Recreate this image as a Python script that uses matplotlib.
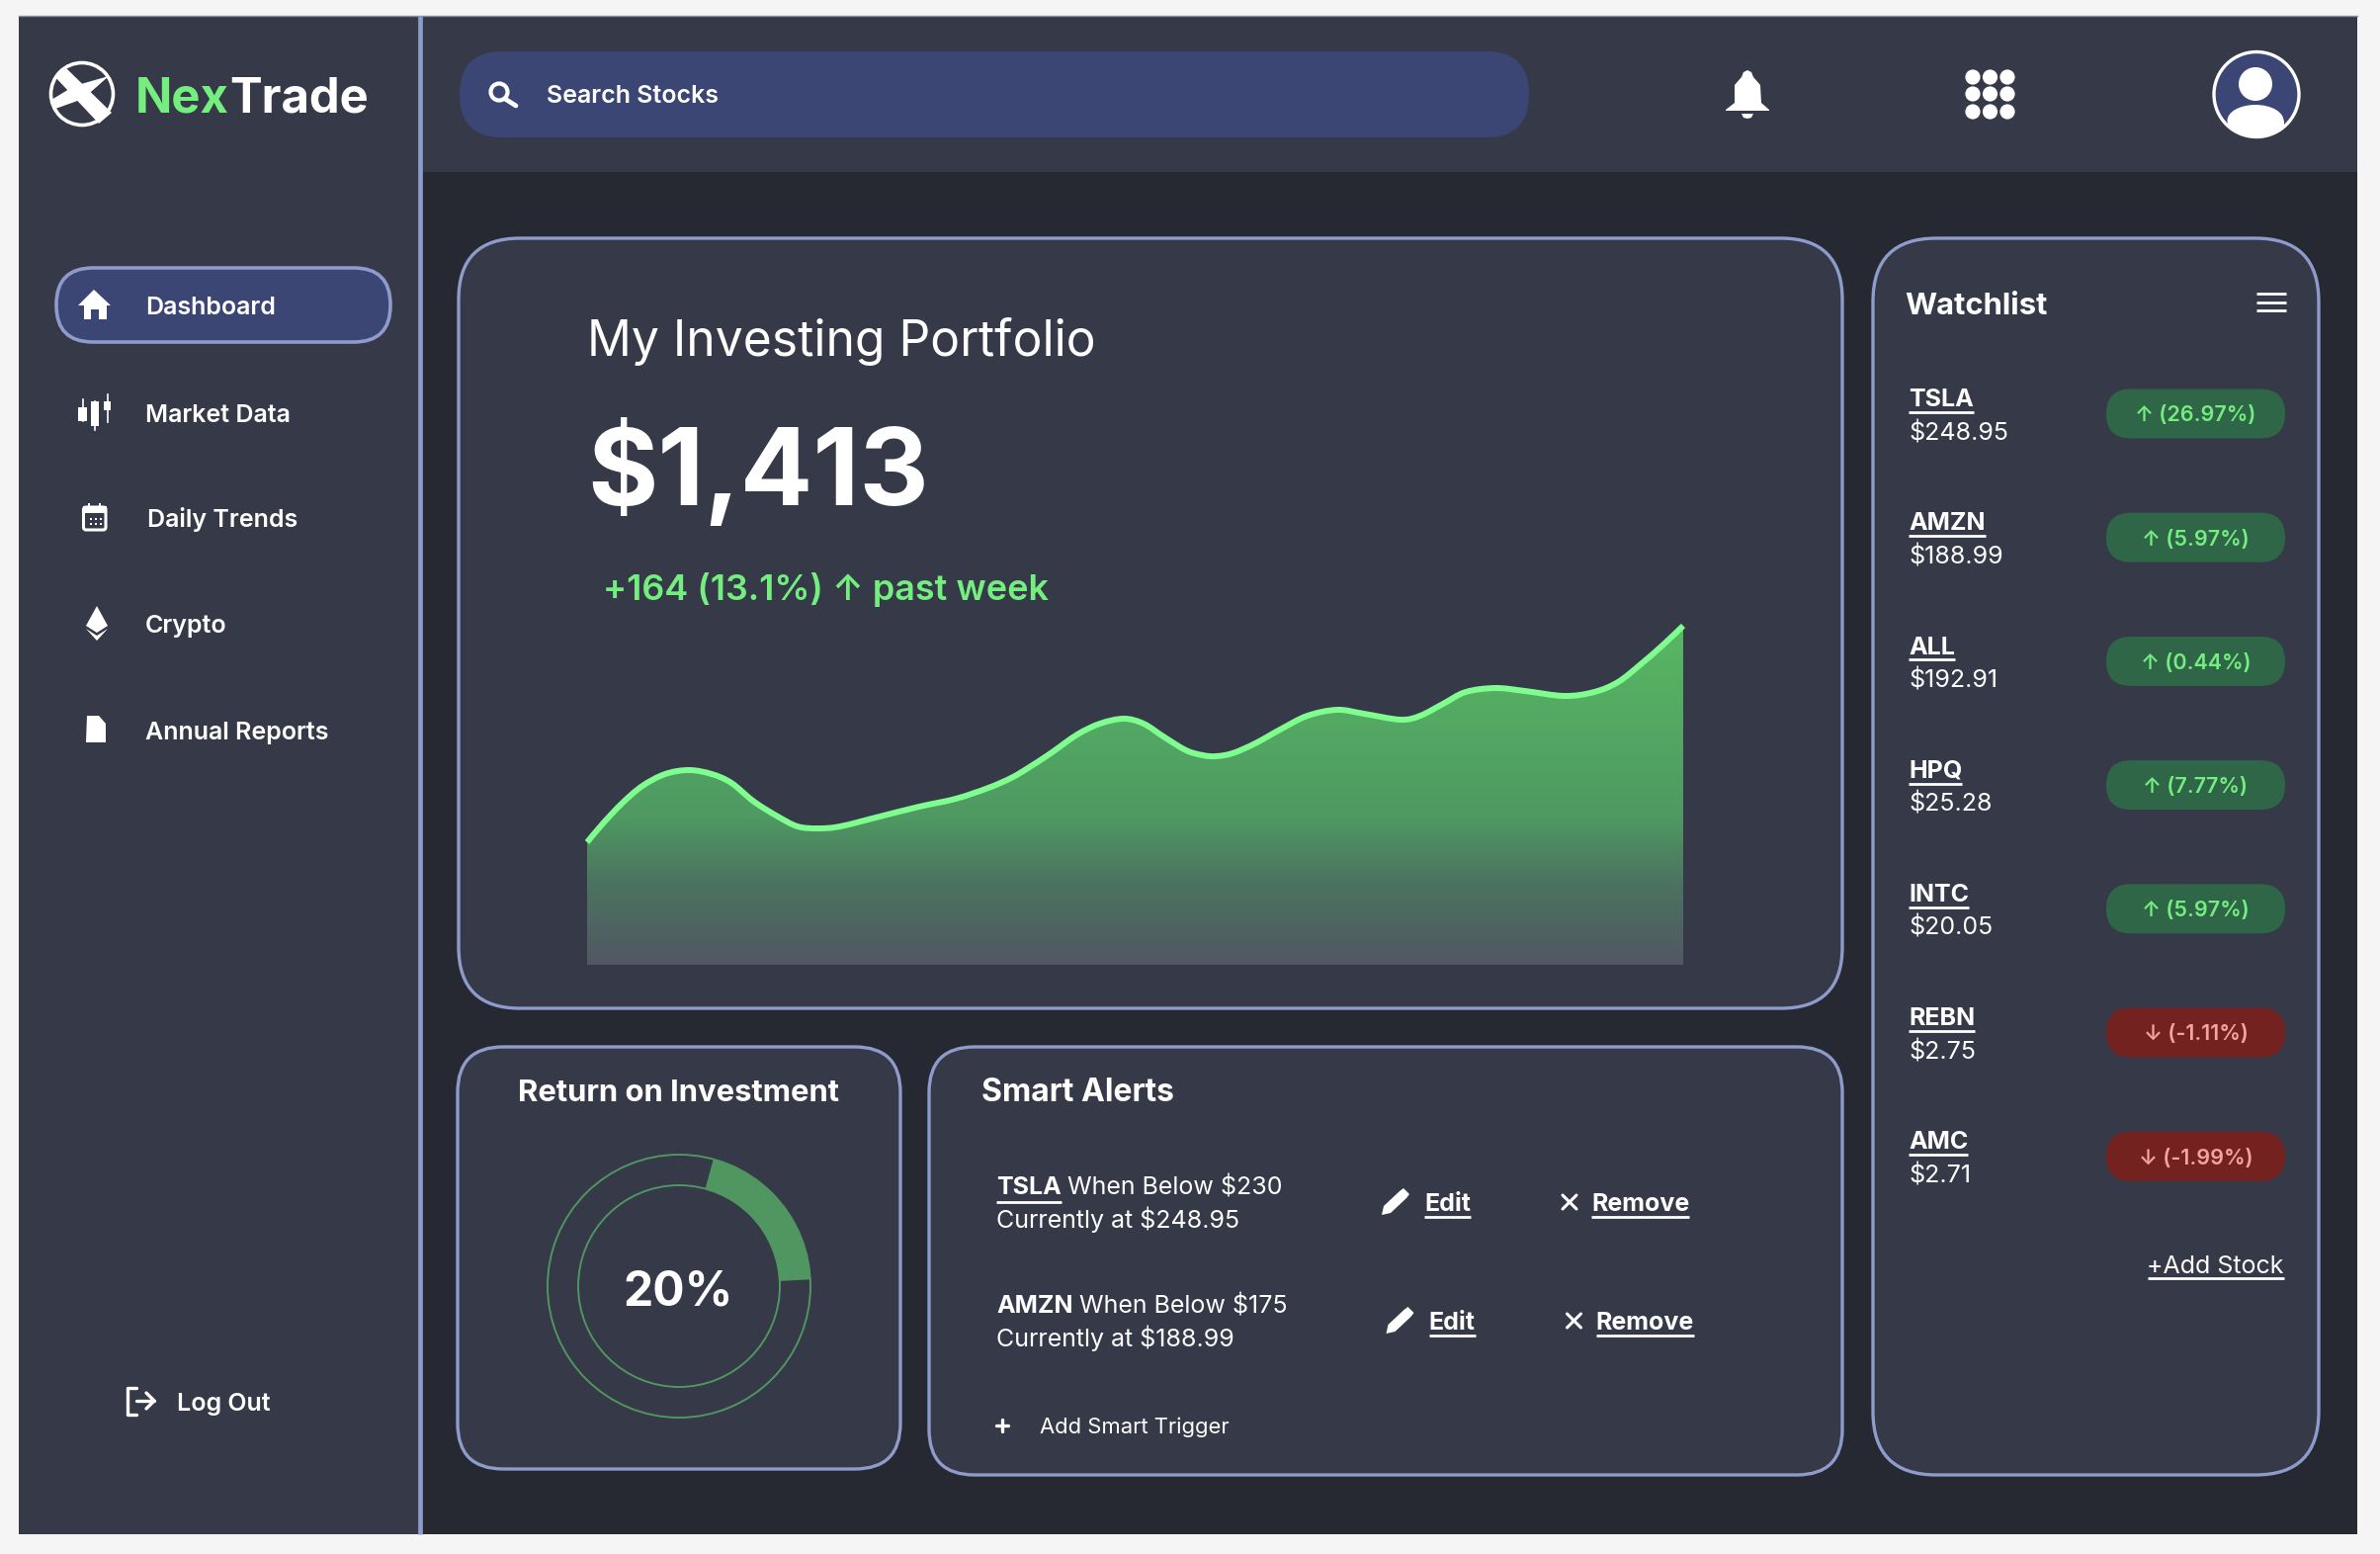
import matplotlib
matplotlib.use("Agg")
import numpy as np
import matplotlib.pyplot as plt
from matplotlib.patches import FancyBboxPatch, Circle, Ellipse, Polygon, Rectangle, PathPatch
from matplotlib.path import Path
from matplotlib.colors import LinearSegmentedColormap

W, H = 2408, 1572
plt.rcParams['font.family'] = ['Inter', 'DejaVu Sans']

# colours
PAGE = '#f5f5f5'
PANEL = '#363947'
DARK = '#272932'
BORDER = '#8e9bcb'
NAVY = '#3b4675'
GREEN = '#73ee7f'
LINE = '#80fd8f'
RING = '#4f9660'
WHITE = '#ffffff'

# data
nav_labels = ['Dashboard', 'Market Data', 'Daily Trends', 'Crypto', 'Annual Reports']
nav_x = [147, 147, 149, 147, 147]
nav_y = [309, 418, 524, 631, 739]

# portfolio curve: position along the week, height above the base line
chart_x = [0, 16, 36, 56, 79, 103, 126, 146, 169, 193, 213, 233, 256, 296, 336, 373, 406, 429, 446,
           469, 496, 519, 543, 563, 583, 606, 623, 636, 653, 676, 703, 729, 759, 786, 823, 843,
           866, 889, 919, 949, 989, 1019, 1043, 1066, 1089, 1109]
chart_y = [124, 143, 164, 181, 193, 197, 193, 184, 165, 150, 140, 138, 140, 150, 160, 168, 179, 189, 199,
           214, 233, 244, 249, 244, 231, 217, 212, 211, 214, 224, 239, 252, 258, 254, 248, 252,
           264, 276, 280, 277, 272, 276, 286, 304, 324, 343]

watch_tickers = ['TSLA', 'AMZN', 'ALL', 'HPQ', 'INTC', 'REBN', 'AMC']
watch_prices = ['$248.95', '$188.99', '$192.91', '$25.28', '$20.05', '$2.75', '$2.71']
watch_changes = [26.97, 5.97, 0.44, 7.77, 5.97, -1.11, -1.99]

roi_pct = 20
roi_start = 4.2

alert_tickers = ['TSLA', 'AMZN']
alert_levels = ['$230', '$175']
alert_prices = ['$248.95', '$188.99']

fig = plt.figure(figsize=(W / 100, H / 100), dpi=100, facecolor=PAGE)
ax = fig.add_axes([0, 0, 1, 1])
ax.set_xlim(0, W)
ax.set_ylim(H, 0)
ax.axis('off')
renderer = fig.canvas.get_renderer()


def label(x, y, s, px, weight='normal', color=WHITE, ha='left'):
    # y is the middle of the capitals
    t = ax.text(x, y + 0.364 * px, s, fontsize=px * 0.72, fontweight=weight, color=color,
                ha=ha, va='baseline', zorder=5)
    return t


def right_of(t):
    return ax.transData.inverted().transform(t.get_window_extent(renderer))[1, 0]


def left_of(t):
    return ax.transData.inverted().transform(t.get_window_extent(renderer))[0, 0]


def underline(t, y, lw=2.0, color=WHITE):
    ax.plot([left_of(t), right_of(t)], [y, y], color=color, lw=lw, solid_capstyle='butt', zorder=5)


def box(x0, y0, x1, y1, r, fc, ec='none', lw=0):
    p = FancyBboxPatch((x0, y0), x1 - x0, y1 - y0, boxstyle='round,pad=0,rounding_size=%g' % r,
                       fc=fc, ec=ec, lw=lw, zorder=2)
    ax.add_patch(p)
    return p


def poly(pts, color=WHITE, z=4):
    ax.add_patch(Polygon(pts, closed=True, fc=color, ec='none', zorder=z))


def stroke(xs, ys, lw=2.5, color=WHITE):
    ax.plot(xs, ys, color=color, lw=lw, solid_capstyle='round', solid_joinstyle='round', zorder=4)


def curve_verts(xs, ys):
    # bezier handles so the drawn line runs smoothly through the read values
    pts = np.column_stack([xs, ys]).astype(float)
    verts = [pts[0]]
    for i in range(len(pts) - 1):
        prev = pts[max(i - 1, 0)]
        nxt = pts[min(i + 2, len(pts) - 1)]
        verts.append(pts[i] + (pts[i + 1] - prev) / 6)
        verts.append(pts[i + 1] - (nxt - pts[i]) / 6)
        verts.append(pts[i + 1])
    return np.array(verts)


# page shell
ax.add_patch(Rectangle((19, 16), 2366, 1536, fc=DARK, ec='none', zorder=1))
ax.add_patch(Rectangle((19, 16), 406, 1536, fc=PANEL, ec='none', zorder=1))
ax.add_patch(Rectangle((425, 16), 1960, 158, fc=PANEL, ec='none', zorder=1))
ax.plot([19, 2385], [16, 16], color='#8b8e98', lw=1, zorder=1.5)
ax.plot([425, 425], [16, 1552], color=BORDER, lw=3.4, solid_capstyle='butt', zorder=3)

# logo
ax.add_patch(Circle((83, 95), 31.5, fc='none', ec=WHITE, lw=2.6, zorder=4))
poly([(55, 77), (67, 69), (113, 114), (100, 125)])
poly([(52, 101), (75, 87), (110, 77), (84, 100), (56, 110)])
t = label(137, 96, 'Nex', 49, 'bold', GREEN)
label(right_of(t), 96, 'Trade', 49, 'bold')

# search bar
box(465, 52, 1547, 139, 43, NAVY)
ax.add_patch(Circle((505, 93), 8.5, fc='none', ec=WHITE, lw=3, zorder=4))
stroke([511, 522], [100, 107], 3.4)
label(553, 95, 'Search Stocks', 25, 'semibold')

# bell
poly([(1768, 71), (1772, 73), (1774, 78), (1781, 86), (1782, 104), (1790, 111), (1790, 112),
      (1746, 112), (1746, 111), (1755, 104), (1755, 86), (1762, 78), (1764, 73)])
poly([(1762, 115), (1774, 115), (1772, 119), (1768, 120), (1764, 119)])

# nine dots
for cy in [78, 95, 113]:
    for cx in [1996, 2013.5, 2031]:
        ax.add_patch(Circle((cx, cy), 7.6, fc=WHITE, ec='none', zorder=4))

# avatar
avatar = Circle((2283, 95.5), 43, fc=NAVY, ec=WHITE, lw=2.4, zorder=3)
ax.add_patch(avatar)
ax.add_patch(Circle((2282, 85), 17, fc=WHITE, ec='none', zorder=4))
body = Ellipse((2282, 122), 57, 32, fc=WHITE, ec='none', zorder=4)
lower = Rectangle((2254, 122), 57, 20, fc=WHITE, ec='none', zorder=4)
ax.add_patch(body)
ax.add_patch(lower)
lower.set_clip_path(avatar)
body.set_clip_path(avatar)

# sidebar
box(57, 271, 395, 346, 37, NAVY, BORDER, 2.6)
for x, y, s in zip(nav_x, nav_y, nav_labels):
    label(x, y, s, 25, 'semibold')
poly([(95, 293), (112, 309), (108, 309), (108, 323), (100, 323), (100, 313), (92, 313), (92, 323),
      (85, 323), (85, 309), (79, 309)])
# candles
for x0, x1, y0, y1, w0, w1 in [(79, 88, 412, 426, 404, 426), (92, 100, 406, 431, 406, 435),
                               (105, 112, 406, 415, 399, 427)]:
    ax.add_patch(Rectangle((x0, y0), x1 - x0, y1 - y0, fc=WHITE, ec='none', zorder=4))
    ax.plot([(x0 + x1) / 2] * 2, [w0, w1], color=WHITE, lw=1.2, zorder=4)
# calendar
box(84.5, 513, 107, 536, 2.5, 'none', WHITE, 2.2).set_zorder(4)
ax.add_patch(Rectangle((84, 512), 24, 7, fc=WHITE, ec='none', zorder=4))
for x in [90, 101]:
    ax.add_patch(Rectangle((x - 1.2, 509), 2.4, 5, fc=WHITE, ec='none', zorder=4))
for y in [524, 529]:
    for x in [90.5, 95.5, 100.5]:
        ax.add_patch(Rectangle((x, y), 2.2, 2.2, fc=WHITE, ec='none', zorder=4))
# crypto
poly([(98, 613), (109, 633), (98, 640), (87, 633)])
poly([(87, 636), (98, 643), (109, 636), (98, 648)])
# report
poly([(88, 724), (100, 724), (107, 732), (107, 751), (87, 751)])
# log out
stroke([138, 128.5, 128.5, 138], [1404, 1404, 1431, 1431], 2.4)
stroke([138, 156], [1417, 1417], 2.4)
stroke([148, 156, 148], [1409, 1417, 1425], 2.4)
label(179, 1418, 'Log Out', 25, 'semibold')

# cards
box(464, 241, 1864, 1020, 62, PANEL, BORDER, 2.4)
box(463, 1059, 911, 1486, 46, PANEL, BORDER, 2.4)
box(940, 1059, 1864, 1492, 46, PANEL, BORDER, 2.4)
box(1895, 241, 2346, 1492, 64, PANEL, BORDER, 2.4)

# portfolio card
label(594, 342, 'My Investing Portfolio', 49.8, 'normal')
label(594, 471, '$1,413', 109, 'bold')
label(610, 594, '+164 (13.1%) \u2191 past week', 36, 'semibold', GREEN)

chart = fig.add_axes([594 / W, 1 - 976 / H, 1111 / W, 356 / H])
chart.set_xlim(0, 1111)
chart.set_ylim(0, 356)
chart.axis('off')
verts = curve_verts(chart_x, chart_y)
line_path = Path(verts, [Path.MOVETO] + [Path.CURVE4] * (len(verts) - 1))
area_verts = np.vstack([verts, [[chart_x[-1], 0], [chart_x[0], 0], [chart_x[0], chart_y[0]]]])
area_path = Path(area_verts, [Path.MOVETO] + [Path.CURVE4] * (len(verts) - 1)
                 + [Path.LINETO, Path.LINETO, Path.CLOSEPOLY])
fade = LinearSegmentedColormap.from_list('fade', [(0, '#525763'), (0.23, '#4b7360'),
                                                  (0.42, '#4f9962'), (1, '#58ba63')])
grad = chart.imshow(np.linspace(1, 0, 256)[:, None], extent=[0, 1111, 0, 356], aspect='auto',
                    cmap=fade, vmin=0, vmax=1, zorder=1)
grad.set_clip_path(area_path, transform=chart.transData)
chart.add_patch(PathPatch(line_path, fc='none', ec=LINE, lw=4.3, capstyle='butt', zorder=2,
                          clip_on=False))

# return on investment
label(687, 1103, 'Return on Investment', 31, 'bold', ha='center')
ax.add_patch(Circle((687, 1301), 133, fc='none', ec=RING, lw=1.4, zorder=3))
ax.add_patch(Circle((687, 1301), 102, fc='none', ec=RING, lw=1.4, zorder=3))
donut = fig.add_axes([(687 - 134) / W, 1 - (1301 + 134) / H, 268 / W, 268 / H])
donut.pie([roi_start, roi_pct, 100 - roi_pct - roi_start], colors=['none', RING, 'none'],
          startangle=90, counterclock=False, radius=133 / 134,
          wedgeprops={'width': 31 / 134, 'linewidth': 0})
donut.set_xlim(-1, 1)
donut.set_ylim(-1, 1)
donut.set_aspect('equal')
donut.axis('off')
label(686, 1303, '%d%%' % roi_pct, 48, 'bold', ha='center')

# smart alerts
label(993, 1102, 'Smart Alerts', 32, 'bold')
for i, (tick, level, price) in enumerate(zip(alert_tickers, alert_levels, alert_prices)):
    y0 = 1199 + 120 * i
    dx = 4.5 * i
    t = label(1008, y0, tick, 25, 'bold')
    if i == 0:
        underline(t, y0 + 17)
    label(right_of(t) + 6, y0, 'When Below ' + level, 25)
    label(1008, y0 + 34, 'Currently at ' + price, 25)
    yb = 1216 + 120 * i
    poly([(1398 + dx, yb + 13), (1400 + dx, yb + 4), (1416 + dx, yb - 11), (1420 + dx, yb - 14),
          (1426 + dx, yb - 8), (1423 + dx, yb - 4), (1407 + dx, yb + 11)])
    t = label(1441 + dx, yb, 'Edit', 25, 'bold')
    underline(t, yb + 15)
    stroke([1581 + dx, 1595 + dx], [yb - 7, yb + 7], 2.2)
    stroke([1581 + dx, 1595 + dx], [yb + 7, yb - 7], 2.2)
    t = label(1610 + dx, yb, 'Remove', 25, 'bold')
    underline(t, yb + 15)
stroke([1008, 1020], [1442, 1442], 2.4)
stroke([1014, 1014], [1436, 1448], 2.4)
label(1052, 1442, 'Add Smart Trigger', 22)

# watchlist
label(1927, 307, 'Watchlist', 31, 'bold')
for y in [297, 306, 314]:
    ax.plot([2283, 2313], [y, y], color=WHITE, lw=2, solid_capstyle='butt', zorder=4)
for i, (tick, price, chg) in enumerate(zip(watch_tickers, watch_prices, watch_changes)):
    y0 = 402 + 125.2 * i
    t = label(1931, y0, tick, 25, 'bold')
    underline(t, y0 + 15)
    label(1931, y0 + 34, price, 25)
    up = chg >= 0
    yp = 418.5 + 125.2 * i
    box(2131, yp - 25, 2312, yp + 25, 25, '#2f6647' if up else '#74221f')
    s = ('\u2191' if up else '\u2193') + ' (%.2f%%)' % chg
    label(2221.5, yp, s, 21.5, 'semibold', GREEN if up else '#f4a3a0', ha='center')
t = label(2311, 1279, '+Add Stock', 25, 'normal', ha='right')
underline(t, 1293)

fig.savefig('out.png', dpi=100, facecolor=PAGE)
